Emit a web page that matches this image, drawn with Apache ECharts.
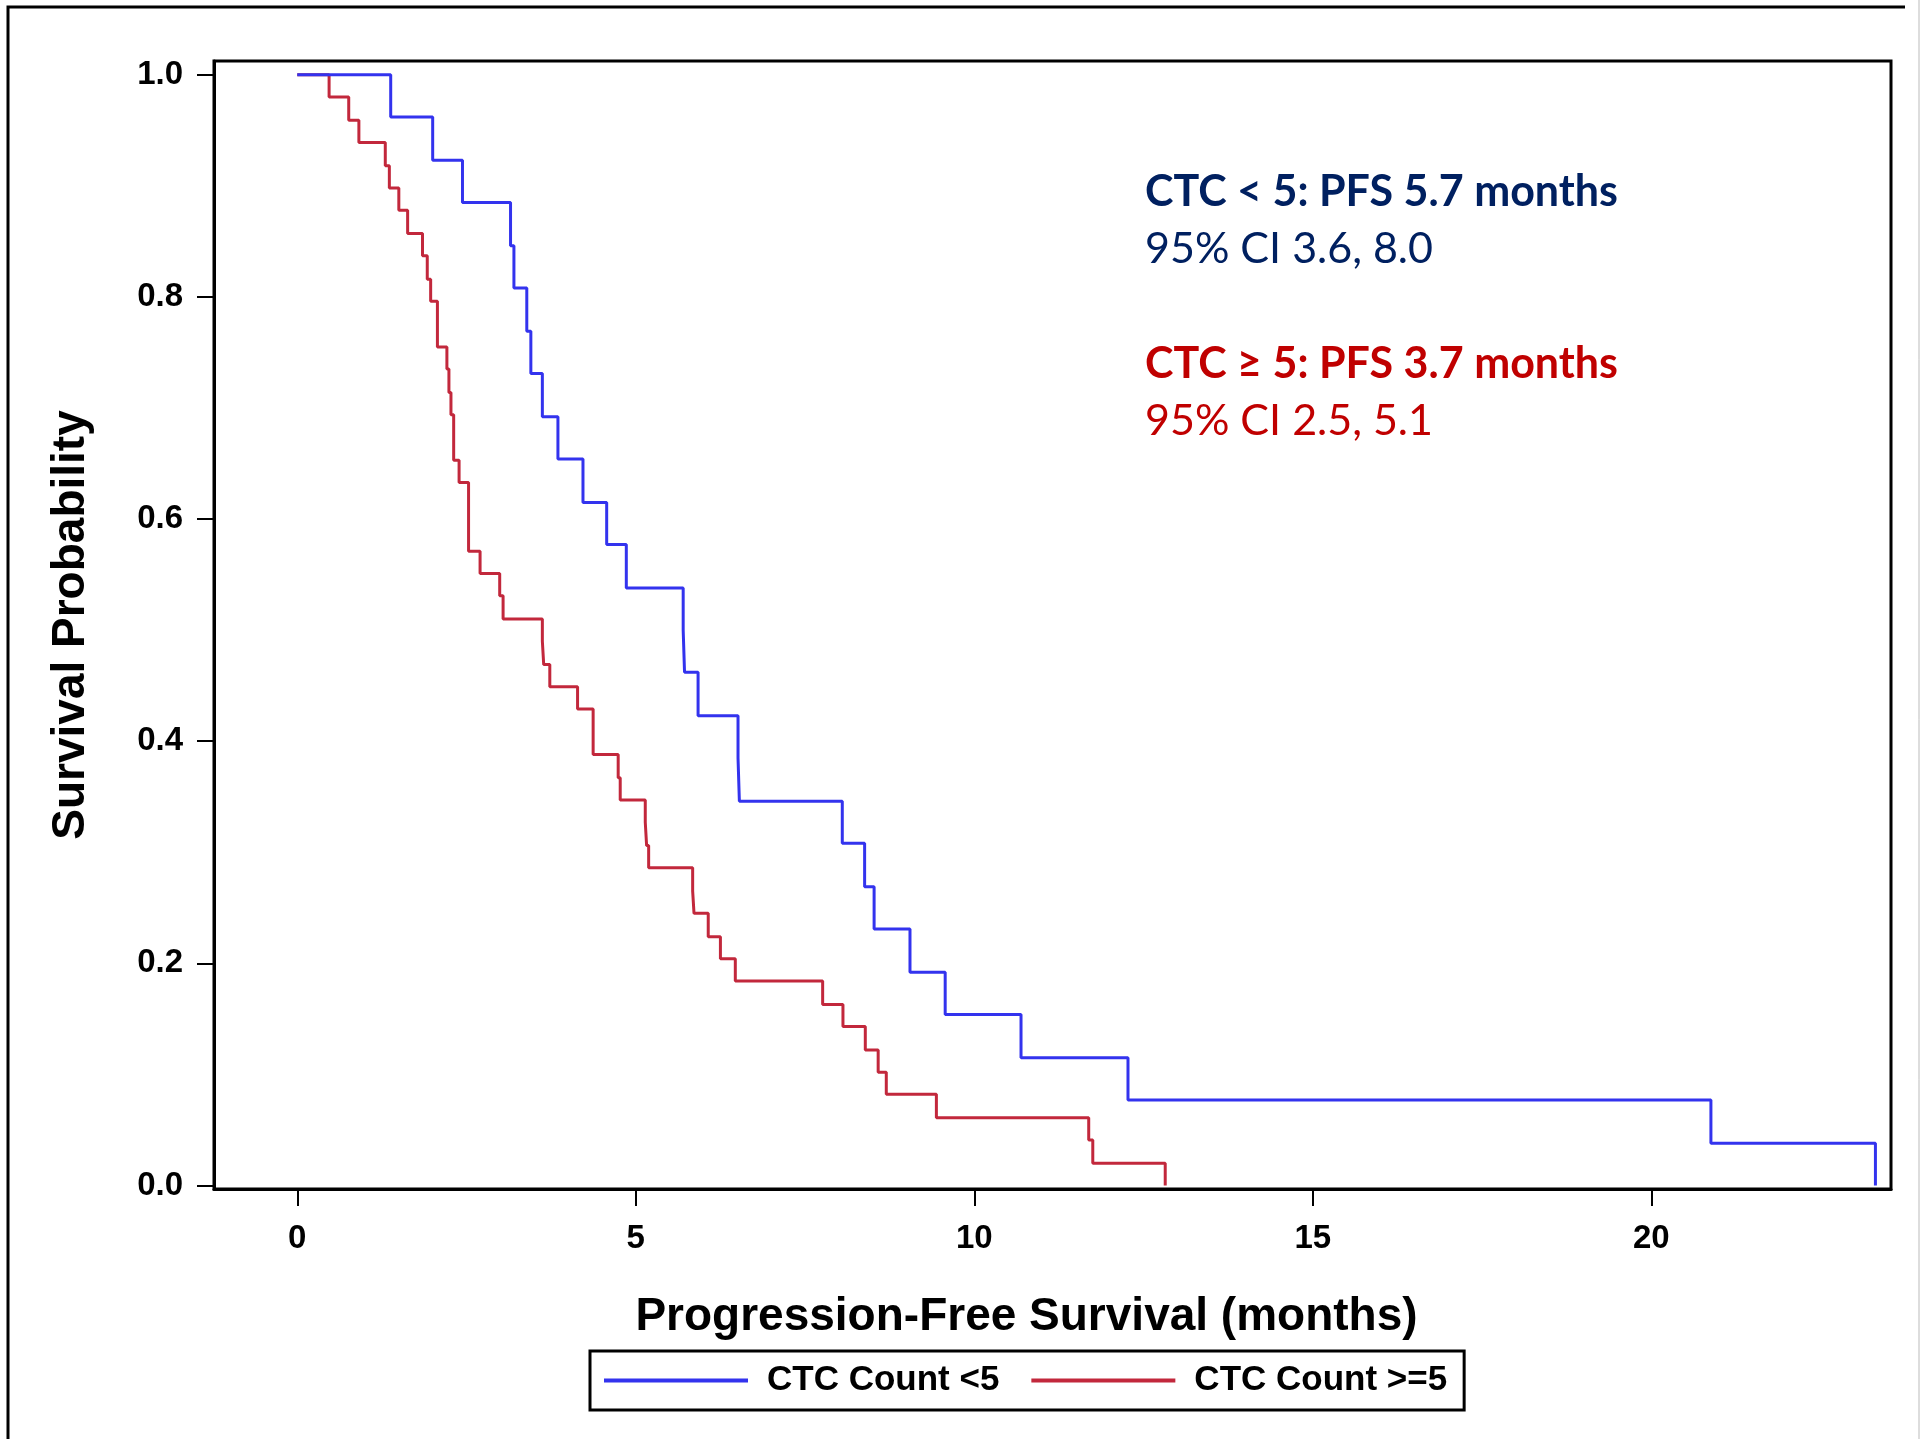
<!DOCTYPE html>
<html>
<head>
<meta charset="utf-8">
<script src="https://cdn.jsdelivr.net/npm/echarts@6/dist/echarts.min.js"></script>
<style>
html,body{margin:0;padding:0;background:#fff;}
#chart{width:1923px;height:1439px;}
</style>
</head>
<body>
<div id="chart"></div>
<script>
// ---- Data ----
const seriesNames = ['CTC Count <5', 'CTC Count >=5'];

// CTC < 5: event times (months) and survival after each step
const lowTimes = [0, 1.38, 2.00, 2.44, 3.15, 3.20, 3.39, 3.45, 3.62, 3.85, 4.22, 4.57, 4.86,
  5.70, 5.72, 5.92, 6.51, 6.53, 8.05, 8.38, 8.52, 9.05, 9.57, 10.69, 12.27, 20.88, 23.31];
const lowSurv = [1.0, 0.962, 0.923, 0.885, 0.846, 0.808, 0.769, 0.731, 0.692, 0.654, 0.615, 0.577, 0.538,
  0.500, 0.462, 0.423, 0.385, 0.346, 0.308, 0.269, 0.231, 0.192, 0.154, 0.115, 0.077, 0.038, 0.0];

// CTC >= 5
const highTimes = [0, 0.47, 0.76, 0.91, 1.30, 1.36, 1.50, 1.63, 1.85, 1.92, 1.97, 2.07, 2.21, 2.24,
  2.27, 2.31, 2.39, 2.53, 2.70, 2.99, 3.04, 3.62, 3.64, 3.73, 4.14, 4.37, 4.74, 4.77, 5.14, 5.16,
  5.19, 5.84, 5.86, 6.07, 6.25, 6.47, 7.76, 8.06, 8.39, 8.58, 8.70, 9.44, 11.69, 11.75, 12.82];
const highSurv = [1.0, 0.980, 0.959, 0.939, 0.918, 0.898, 0.878, 0.857, 0.837, 0.816, 0.796, 0.755, 0.735, 0.714,
  0.694, 0.653, 0.633, 0.571, 0.551, 0.531, 0.510, 0.490, 0.469, 0.449, 0.429, 0.388, 0.367, 0.347, 0.327, 0.306,
  0.286, 0.265, 0.245, 0.224, 0.204, 0.184, 0.163, 0.143, 0.122, 0.102, 0.082, 0.061, 0.041, 0.020, 0.0];

const xTickValues = [0, 5, 10, 15, 20];
const yTickValues = [0, 0.2, 0.4, 0.6, 0.8, 1.0];

const annotLines = [
  'CTC < 5: PFS 5.7 months',
  '95% CI 3.6, 8.0',
  'CTC \u2265 5: PFS 3.7 months',
  '95% CI 2.5, 5.1'
];

// ---- Chart ----
const zip = (t, s) => t.map((v, i) => [v, s[i]]);
const chart = echarts.init(document.getElementById('chart'));

const tickFont = { fontFamily: 'Liberation Sans, Arial, sans-serif', fontWeight: 'bold', fontSize: 33, color: '#000' };
const titleFont = { fontFamily: 'Liberation Sans, Arial, sans-serif', fontWeight: 'bold', fontSize: 46, color: '#000' };

const annotStyles = [
  { fill: '#002060', fontWeight: 'bold', y: 192 },
  { fill: '#002060', fontWeight: 'normal', y: 249 },
  { fill: '#C00000', fontWeight: 'bold', y: 364 },
  { fill: '#C00000', fontWeight: 'normal', y: 421 }
];

const option = {
  backgroundColor: '#fff',
  animation: false,
  grid: {
    left: 214, top: 61, right: 32, bottom: 250,
    show: true, borderColor: '#000', borderWidth: 3, backgroundColor: 'transparent'
  },
  xAxis: {
    type: 'value',
    min: -1.23, max: 23.54,
    name: 'Progression-Free Survival (months)',
    nameLocation: 'middle',
    nameGap: 105,
    nameTextStyle: Object.assign({}, titleFont, { padding: [0, 52, 0, 0] }),
    axisLine: { show: true, onZero: false, lineStyle: { color: '#000', width: 3 } },
    axisTick: { show: true, length: 17, lineStyle: { color: '#000', width: 2 }, customValues: xTickValues },
    axisLabel: Object.assign({}, tickFont, { margin: 33, customValues: xTickValues, formatter: v => String(v) }),
    splitLine: { show: false }
  },
  yAxis: {
    type: 'value',
    min: -0.0032, max: 1.0124,
    name: 'Survival Probability',
    nameLocation: 'middle',
    nameGap: 120,
    nameTextStyle: titleFont,
    axisLine: { show: true, onZero: false, lineStyle: { color: '#000', width: 3 } },
    axisTick: { show: true, length: 17, lineStyle: { color: '#000', width: 2 }, customValues: yTickValues },
    axisLabel: Object.assign({}, tickFont, { margin: 31, customValues: yTickValues, formatter: v => v.toFixed(1) }),
    splitLine: { show: false }
  },
  legend: {
    data: seriesNames,
    left: 590, top: 1351,
    orient: 'horizontal',
    icon: 'rect',
    itemWidth: 144, itemHeight: 4,
    itemGap: 32,
    borderColor: '#000', borderWidth: 3, borderRadius: 0,
    padding: [12, 17, 12, 14],
    textStyle: { fontFamily: 'Liberation Sans, Arial, sans-serif', fontWeight: 'bold', fontSize: 35, color: '#000', padding: [0, 0, 0, 14] }
  },
  series: [
    {
      name: seriesNames[0], type: 'line', step: 'end',
      data: zip(lowTimes, lowSurv),
      symbol: 'none', showSymbol: false,
      lineStyle: { color: '#3333EE', width: 3 },
      itemStyle: { color: '#3333EE' },
      z: 3
    },
    {
      name: seriesNames[1], type: 'line', step: 'end',
      data: zip(highTimes, highSurv),
      symbol: 'none', showSymbol: false,
      lineStyle: { color: '#C2283C', width: 3 },
      itemStyle: { color: '#C2283C' },
      z: 2
    }
  ],
  graphic: [
    { type: 'polyline', silent: true, shape: { points: [[8, 1439], [8, 7], [1905, 7]] }, style: { stroke: '#000', lineWidth: 3, fill: null } },
    { type: 'line', silent: true, shape: { x1: 1919, y1: 0, x2: 1919, y2: 1439 }, style: { stroke: '#bbb', lineWidth: 1 } }
  ].concat(annotLines.map((t, i) => ({
    type: 'text', silent: true,
    x: 1145, y: annotStyles[i].y,
    style: {
      text: t,
      fill: annotStyles[i].fill,
      fontFamily: 'Lato, "Open Sans", sans-serif',
      fontWeight: annotStyles[i].fontWeight,
      fontSize: 43,
      align: 'left',
      verticalAlign: 'middle'
    }
  })))
};
chart.setOption(option);
</script>
</body>
</html>
